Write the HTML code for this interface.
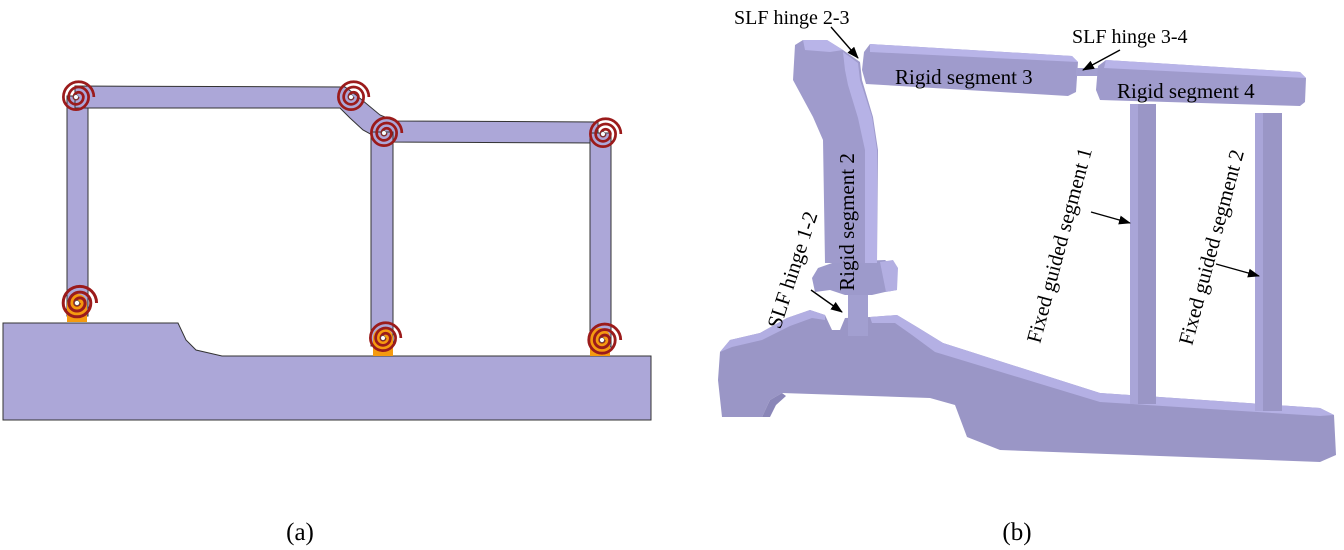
<!DOCTYPE html>
<html><head><meta charset="utf-8"><style>
html,body{margin:0;padding:0;background:#fff;}
svg{display:block;}
text{font-family:"Liberation Serif",serif;fill:#000;}
</style></head><body>
<svg width="1344" height="550" viewBox="0 0 1344 550" xmlns="http://www.w3.org/2000/svg">
<defs>
<marker id="ah" markerWidth="12" markerHeight="9" refX="11" refY="4.5" orient="auto" markerUnits="userSpaceOnUse">
<path d="M0,0 L12,4.5 L0,9 Z" fill="#000"/>
</marker>
<g id="spiral">
<path d="M0,0 m2,0 a2,2 0 1,1 -4,0 a4.5,4.5 0 1,1 9,0 a7,7 0 1,1 -14,0 a9.5,9.5 0 1,1 19,0 a12,12 0 1,1 -24,0 a14.5,14.5 0 1,1 29,0" fill="none" stroke="#9b1b1b" stroke-width="2.6"/>
<circle r="2.2" fill="#fff" stroke="#555" stroke-width="0.6"/>
</g>
<g id="pad">
<path d="M-10,14 L-10,-4 a10,10 0 0,1 20,0 L10,14 Z" fill="#f59a10"/>
</g>
</defs>

<!-- Panel (a) -->
<path d="M3,323 L178,323 L186,340 L196,350 L222,356 L651,356 L651,420 L3,420 Z" fill="#aca7d8" stroke="#333" stroke-width="1"/>
<rect x="67" y="96" width="21" height="220" fill="#aca7d8" stroke="#333" stroke-width="1"/>
<path d="M75,86 L345,87 L356,95 L380,115 L395,121 L598,122 L598,143 L385,142 L363,130 L350,118 L340,108 L75,108 Z" fill="#aca7d8" stroke="#333" stroke-width="1"/>
<rect x="371" y="132" width="22" height="214" fill="#aca7d8" stroke="#333" stroke-width="1"/>
<rect x="590" y="133" width="21" height="214" fill="#aca7d8" stroke="#333" stroke-width="1"/>
<use href="#pad" transform="translate(77,308)"/>
<use href="#pad" transform="translate(383,342)"/>
<use href="#pad" transform="translate(600,342)"/>
<use href="#spiral" transform="translate(76,97) scale(1.05)"/>
<use href="#spiral" transform="translate(351,97) scale(1.05)"/>
<use href="#spiral" transform="translate(384,133) scale(1.05)"/>
<use href="#spiral" transform="translate(603,134) scale(1.05)"/>
<use href="#spiral" transform="translate(77,303) scale(1.15)"/>
<use href="#spiral" transform="translate(383,338) scale(1.05)"/>
<use href="#spiral" transform="translate(602,340) scale(1.1)"/>

<text x="300" y="540" font-size="25" text-anchor="middle">(a)</text>

<!-- Panel (b) -->
<path d="M720,352 L730,340 L760,333 L787,318 L810,310 L825,315 L832,330 L840,330 L845,318 L870,317 L897,315 L917,327 L943,343 L1100,393 L1320,408 L1334,415 L1336,455 L1320,462 L1000,450 L967,437 L955,405 L930,398 L782,393 L770,400 L762,417 L722,417 L718,380 Z" fill="#9a96c6"/>
<path d="M720,352 L730,340 L760,333 L787,318 L810,310 L825,315 L825,320 L812,318 L790,326 L762,340 L732,347 Z" fill="#b2aee2"/>
<path d="M870,317 L897,315 L917,327 L943,343 L1100,393 L1320,408 L1334,415 L1320,416 L1100,402 L935,352 L912,335 L895,323 L872,323 Z" fill="#b4b0e4"/>
<path d="M762,417 L770,400 L782,393 L786,396 L776,405 L770,417 Z" fill="#8a86b8"/>
<rect x="848" y="292" width="20" height="44" fill="#a29fd0"/>
<path d="M812,278 L818,268 L835,262 L885,260 L895,268 L897,290 L885,292 L872,295 L845,295 L830,290 L815,292 Z" fill="#9d9acb"/>
<path d="M880,262 L893,260 L898,268 L897,290 L886,292 Z" fill="#b3afe2"/>
<path d="M795,45 L803,40 L827,40 L843,50 L860,62 L862,80 L873,117 L878,150 L877,263 L825,263 L823,140 L813,117 L793,80 Z" fill="#9f9bcc"/>
<path d="M843,52 L858,63 L860,80 L872,117 L877,150 L877,263 L865,263 L865,150 L858,118 L848,85 L845,70 Z" fill="#b6b2e6"/>
<path d="M803,40 L827,40 L843,50 L830,52 L805,50 Z" fill="#b8b4e8"/>
<path d="M864,52 L870,44 L1072,56 L1078,62 L1076,92 L1068,96 L866,84 L862,70 Z" fill="#9f9bcc"/>
<path d="M870,44 L1072,56 L1078,62 L870,52 Z" fill="#b8b4e8"/>
<rect x="1076" y="68" width="22" height="8" fill="#a29fd0"/>
<path d="M1098,66 L1106,60 L1300,72 L1306,78 L1305,102 L1300,106 L1100,100 L1096,90 Z" fill="#9f9bcc"/>
<path d="M1106,60 L1300,72 L1306,78 L1104,68 Z" fill="#b8b4e8"/>
<rect x="1130" y="104" width="26" height="300" fill="#9a96c6"/>
<rect x="1130" y="104" width="8" height="300" fill="#a9a5d8"/>
<rect x="1255" y="113" width="27" height="298" fill="#9a96c6"/>
<rect x="1255" y="113" width="8" height="298" fill="#a9a5d8"/>

<!-- labels -->
<text x="734" y="24" font-size="20">SLF hinge 2-3</text>
<text x="1072" y="43" font-size="20">SLF hinge 3-4</text>
<text x="895" y="84" font-size="21">Rigid segment 3</text>
<text x="1117" y="98" font-size="21">Rigid segment 4</text>
<text transform="translate(854,222) rotate(-90)" font-size="21" text-anchor="middle">Rigid segment 2</text>
<text transform="translate(799,272) rotate(-72)" font-size="21" text-anchor="middle">SLF hinge 1-2</text>
<text transform="translate(1066,247) rotate(-75)" font-size="21" text-anchor="middle">Fixed guided segment 1</text>
<text transform="translate(1218,249) rotate(-75)" font-size="21" text-anchor="middle">Fixed guided segment 2</text>

<g stroke="#000" stroke-width="1.4" marker-end="url(#ah)">
<line x1="831" y1="27" x2="858" y2="58"/>
<line x1="1120" y1="50" x2="1083" y2="70"/>
<line x1="811" y1="290" x2="842" y2="312"/>
<line x1="1091" y1="212" x2="1130" y2="223"/>
<line x1="1216" y1="264" x2="1259" y2="276"/>
</g>

<text x="1017" y="540" font-size="25" text-anchor="middle">(b)</text>
</svg>
</body></html>
